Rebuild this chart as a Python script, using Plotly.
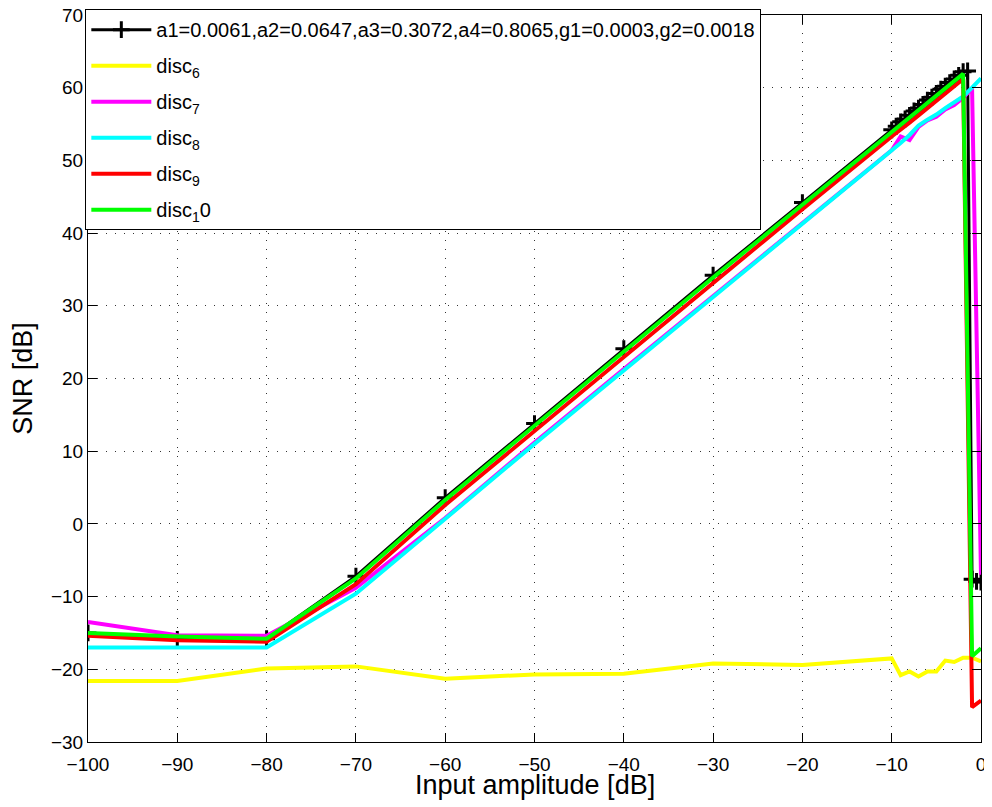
import plotly.graph_objects as go

# ---- data ----
x_black = [-100, -90, -80, -70, -60, -50, -40, -30, -20, -10,
           -9.5, -9, -8.5, -8, -7.5, -7, -6.5, -6, -5.5, -5,
           -4.5, -4, -3.5, -3, -2.5, -2, -1.5, -1, -0.5, 0]
snr_black = [-15.0, -15.9, -15.8, -7.2, 3.6, 13.8, 24.1, 34.2, 44.2, 54.2,
             54.7, 55.3, 55.7, 56.2, 56.8, 57.2, 57.7, 58.3, 58.7, 59.2,
             59.8, 60.2, 60.7, 61.2, 61.7, 62.2, 62.3, -7.6, -7.9, -8.0]

x_disc = [-100, -90, -80, -70, -60, -50, -40, -30, -20, -10,
          -9, -8, -7, -6, -5, -4, -3, -2, -1, 0]
snr_disc6 = [-21.6, -21.6, -19.9, -19.6, -21.3, -20.7, -20.6, -19.2, -19.4, -18.5,
             -20.8, -20.3, -21.0, -20.3, -20.3, -18.8, -19.0, -18.4, -18.4, -18.9]
snr_disc7 = [-13.5, -15.3, -15.4, -8.8, 0.8, 11.2, 21.3, 31.3, 41.3, 51.4,
             53.3, 52.8, 54.6, 55.5, 56.0, 57.0, 57.6, 58.6, 59.9, -7.0]
snr_disc8 = [-17.0, -17.0, -17.0, -9.6, 0.7, 11.0, 21.1, 31.2, 41.2, 51.3,
             52.4, 53.5, 54.8, 55.6, 56.3, 57.2, 58.0, 58.8, 60.0, 61.3]
snr_disc9 = [-15.4, -16.0, -16.2, -8.3, 2.6, 12.8, 23.0, 33.2, 43.3, 53.3,
             54.2, 55.2, 56.2, 57.2, 58.2, 59.2, 60.2, 61.2, -25.2, -24.3]
snr_disc10 = [-15.0, -15.5, -15.8, -7.5, 3.3, 13.5, 23.8, 33.9, 43.9, 53.9,
              54.9, 55.9, 56.9, 57.9, 58.9, 59.9, 60.9, 61.9, -18.2, -17.1]

black_label = "a1=0.0061,a2=0.0647,a3=0.3072,a4=0.8065,g1=0.0003,g2=0.0018"
disc_labels = ["disc<sub>6</sub>", "disc<sub>7</sub>", "disc<sub>8</sub>",
               "disc<sub>9</sub>", "disc<sub>1</sub>0"]
disc_series = [snr_disc6, snr_disc7, snr_disc8, snr_disc9, snr_disc10]
disc_colors = ["#ffff00", "#ff00ff", "#00ffff", "#ff0000", "#00ff00"]

x_ticks = [-100, -90, -80, -70, -60, -50, -40, -30, -20, -10, 0]
y_ticks = [-30, -20, -10, 0, 10, 20, 30, 40, 50, 60, 70]

FONT = "Liberation Sans, Arial, Helvetica, sans-serif"

fig = go.Figure()
fig.add_trace(go.Scatter(
    x=x_black, y=snr_black, name=black_label, mode="lines+markers",
    line=dict(color="black", width=3),
    marker=dict(symbol="cross-thin", size=12, line=dict(color="black", width=3)),
    legendgroup="g0",
))
for i, (lab, ys, col) in enumerate(zip(disc_labels, disc_series, disc_colors)):
    fig.add_trace(go.Scatter(
        x=x_disc, y=ys, name=lab, mode="lines",
        line=dict(color=col, width=4), legendgroup=f"g{i+1}",
    ))

axis_common = dict(
    showline=True, linecolor="black", linewidth=1, mirror="ticks",
    ticks="inside", ticklen=9, tickwidth=1, tickcolor="black",
    showgrid=True, gridcolor="#333333", gridwidth=1, griddash="1px,8px",
    zeroline=False, tickfont=dict(family=FONT, size=19, color="black"),
    ticklabeloverflow="allow",
)

fig.update_xaxes(range=[-100, 0], tickvals=x_ticks, ticklabelstandoff=5, **axis_common)
fig.update_yaxes(range=[-30, 70], tickvals=y_ticks,
                 title=dict(text="SNR [dB]", font=dict(family=FONT, size=27, color="black"), standoff=16),
                 **axis_common)

fig.add_annotation(text="Input amplitude [dB]", xref="paper", yref="paper",
                   x=0.5, y=0, yanchor="middle", yshift=-43, showarrow=False,
                   font=dict(family=FONT, size=27, color="black"))

fig.update_layout(
    width=984, height=799,
    margin=dict(l=80, r=11, t=7, b=65, autoexpand=False),
    plot_bgcolor="white", paper_bgcolor="white",
    font=dict(family=FONT, color="black"),
    legend=dict(x=-0.003, y=1.008, xanchor="left", yanchor="top",
                bgcolor="white", bordercolor="black", borderwidth=1,
                font=dict(family=FONT, size=20, color="black"),
                itemwidth=60, tracegroupgap=7, traceorder="grouped"),
    showlegend=True,
)

fig.write_html("out.html")
